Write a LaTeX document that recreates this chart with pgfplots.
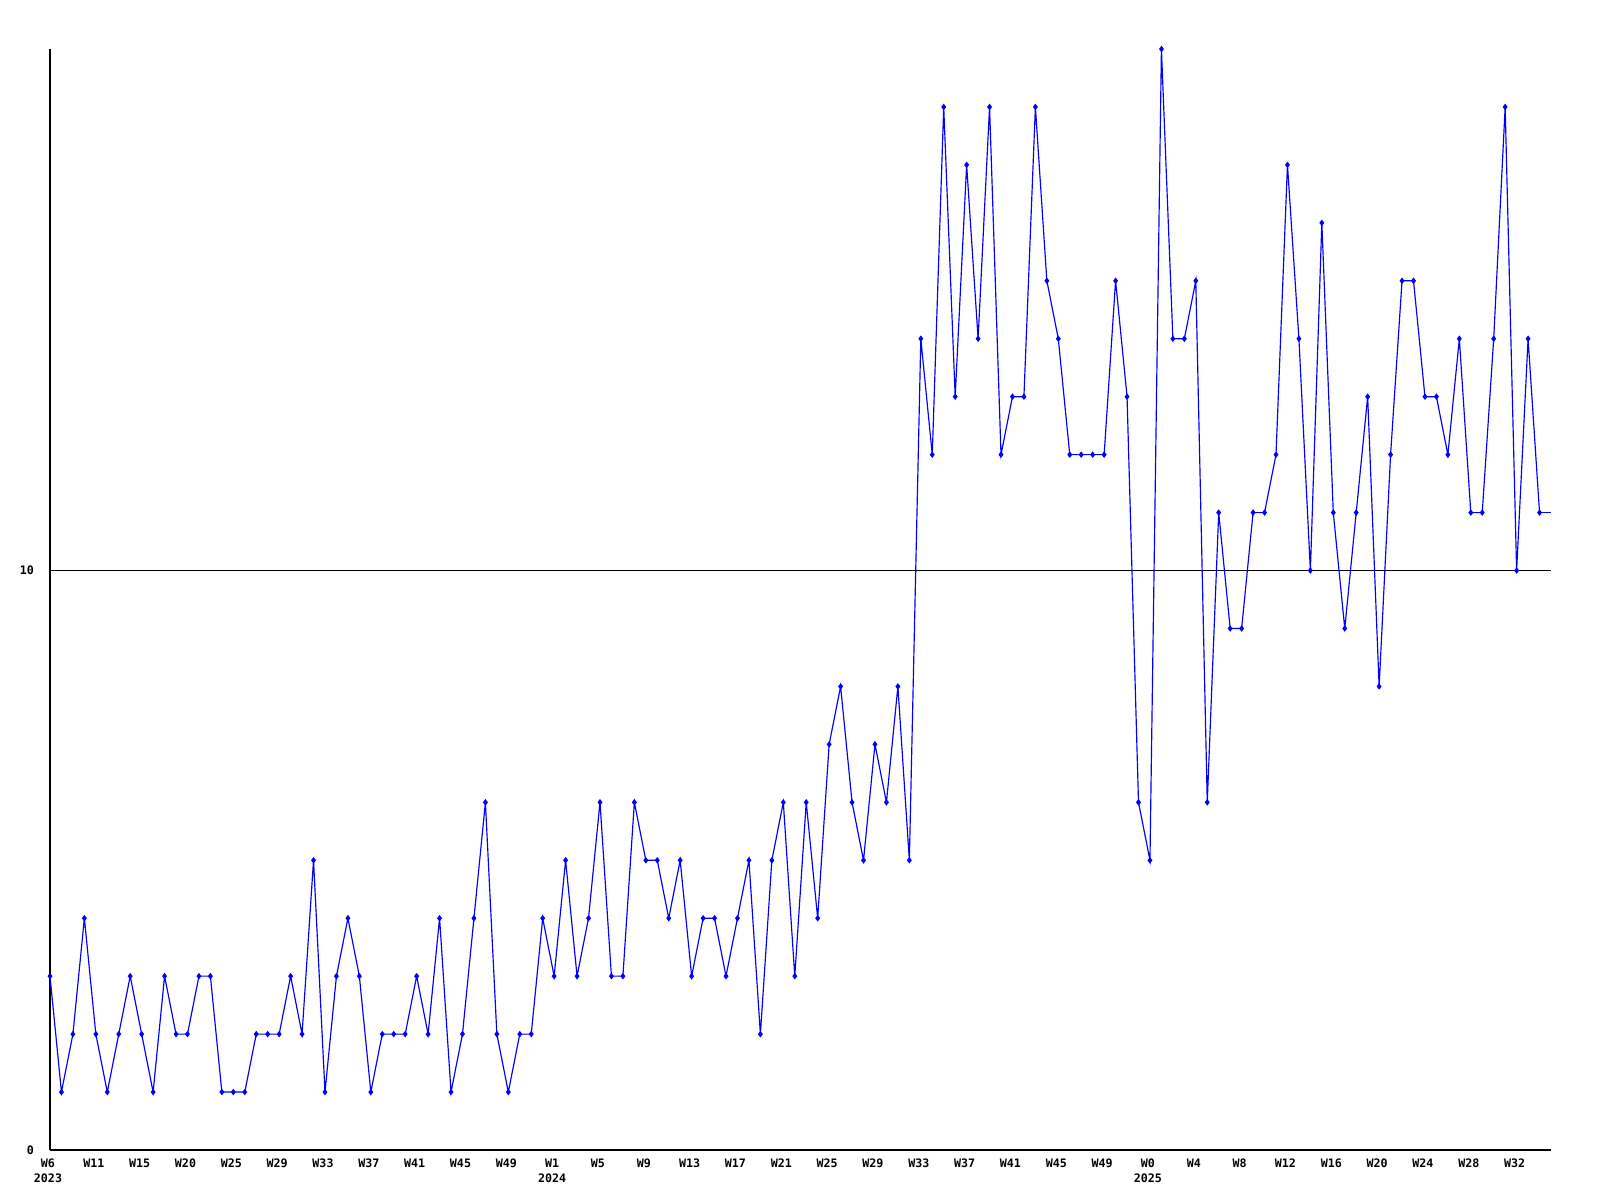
\documentclass[border=0pt]{standalone}
\usepackage{pgfplots}
\pgfplotsset{compat=1.18}
\usepackage{fontspec}
\setmonofont{DejaVu Sans Mono}
\newcommand{\lbl}{\fontsize{3.5}{4.5}\selectfont\ttfamily\bfseries}
\begin{document}
\begin{tikzpicture}
\useasboundingbox (-15pt,-15pt) rectangle (465pt,345pt);
\begin{axis}[
  at={(0,0)}, anchor=south west,
  scale only axis,
  width=450.3pt, height=330.3pt,
  xmin=0, xmax=131, ymin=0, ymax=19,
  axis x line=bottom, axis y line=left,
  axis line style={-, line width=0.5pt, black},
  ytick={0,10}, yticklabels={0,10},
  xtick={0,4,...,128},
  xticklabels={{W6\\2023},W11,W15,W20,W25,W29,W33,W37,W41,W45,W49,{W1\\2024},W5,W9,W13,W17,W21,W25,W29,W33,W37,W41,W45,W49,{W0\\2025},W4,W8,W12,W16,W20,W24,W28,W32},
  major tick length=0pt,
  xticklabel style={font=\lbl, align=center, anchor=north, yshift=0.9pt, xshift=-0.6pt, inner xsep=0pt},
  yticklabel style={font=\lbl, xshift=-1.3pt},
  ymajorgrids, grid style={black, line width=0.4pt},
  clip=true,
]
\addplot[blue, line width=0.35pt, mark=diamond*, mark size=0.7pt, mark options={blue}] coordinates {
(0,3)(1,1)(2,2)(3,4)(4,2)(5,1)(6,2)(7,3)(8,2)(9,1)
(10,3)(11,2)(12,2)(13,3)(14,3)(15,1)(16,1)(17,1)(18,2)(19,2)
(20,2)(21,3)(22,2)(23,5)(24,1)(25,3)(26,4)(27,3)(28,1)(29,2)
(30,2)(31,2)(32,3)(33,2)(34,4)(35,1)(36,2)(37,4)(38,6)(39,2)
(40,1)(41,2)(42,2)(43,4)(44,3)(45,5)(46,3)(47,4)(48,6)(49,3)
(50,3)(51,6)(52,5)(53,5)(54,4)(55,5)(56,3)(57,4)(58,4)(59,3)
(60,4)(61,5)(62,2)(63,5)(64,6)(65,3)(66,6)(67,4)(68,7)(69,8)
(70,6)(71,5)(72,7)(73,6)(74,8)(75,5)(76,14)(77,12)(78,18)(79,13)
(80,17)(81,14)(82,18)(83,12)(84,13)(85,13)(86,18)(87,15)(88,14)(89,12)
(90,12)(91,12)(92,12)(93,15)(94,13)(95,6)(96,5)(97,19)(98,14)(99,14)
(100,15)(101,6)(102,11)(103,9)(104,9)(105,11)(106,11)(107,12)(108,17)(109,14)
(110,10)(111,16)(112,11)(113,9)(114,11)(115,13)(116,8)(117,12)(118,15)(119,15)
(120,13)(121,13)(122,12)(123,14)(124,11)(125,11)(126,14)(127,18)(128,10)(129,14)
(130,11)
};
\addplot[blue, line width=0.35pt, no marks] coordinates {(130,11)(131,11)};
\end{axis}
\end{tikzpicture}
\end{document}
